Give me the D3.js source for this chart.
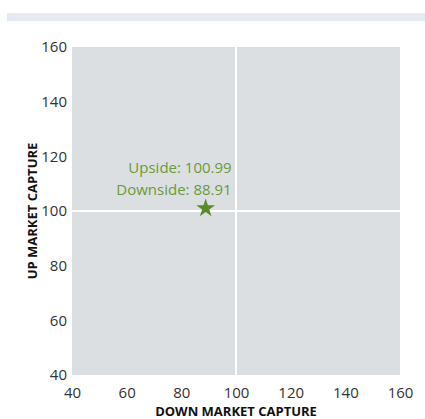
<!DOCTYPE html>
<html>
<head>
<meta charset="utf-8">
<script src="https://cdn.jsdelivr.net/npm/d3@7"></script>
<style>
  body { margin: 0; background: #fff; }
  text { font-family: "Open Sans", "Noto Sans", sans-serif; }
</style>
</head>
<body>
<script>
// chart values
var xTicks = [40, 60, 80, 100, 120, 140, 160];
var yTicks = [40, 60, 80, 100, 120, 140, 160];
var points = [{ down: 88.91, up: 100.99 }];
var labels = ["Upside: 100.99", "Downside: 88.91"];

var w = 425, h = 419;
var margin = { top: 47, right: 25, bottom: 44, left: 72 };

var svg = d3.select("body").append("svg")
  .attr("width", w).attr("height", h);

// band at the top
svg.append("rect")
  .attr("x", 7).attr("y", 13).attr("width", w - 7).attr("height", 8)
  .attr("fill", "#e5e9f0");

var x = d3.scaleLinear().domain([40, 160]).range([margin.left, w - margin.right]);
var y = d3.scaleLinear().domain([40, 160]).range([h - margin.bottom, margin.top]);

// plot background
svg.append("rect")
  .attr("x", x(40)).attr("y", y(160))
  .attr("width", x(160) - x(40)).attr("height", y(40) - y(160))
  .attr("fill", "#dcdfe2");

// white cross lines at 100
svg.append("line")
  .attr("x1", x(100)).attr("x2", x(100))
  .attr("y1", y(160)).attr("y2", y(40))
  .attr("stroke", "#fff").attr("stroke-width", 2);
svg.append("line")
  .attr("x1", x(40)).attr("x2", x(160))
  .attr("y1", y(100)).attr("y2", y(100))
  .attr("stroke", "#fff").attr("stroke-width", 2);

// axes
var xAxis = svg.append("g")
  .attr("transform", `translate(0,${y(40)})`)
  .call(d3.axisBottom(x).tickValues(xTicks).tickSize(0).tickPadding(12));
var yAxis = svg.append("g")
  .attr("transform", `translate(${x(40)},0)`)
  .call(d3.axisLeft(y).tickValues(yTicks).tickSize(0).tickPadding(5));
[xAxis, yAxis].forEach(function (g) {
  g.select(".domain").remove();
  g.selectAll("text")
    .attr("fill", "#333")
    .style("font-size", "15px")
    .style("font-family", "'Open Sans', sans-serif");
});

// axis titles
svg.append("text")
  .attr("x", x(100)).attr("y", 416)
  .attr("text-anchor", "middle")
  .attr("font-weight", "bold").attr("font-size", 13).attr("fill", "#111")
  .text("DOWN MARKET CAPTURE");
svg.append("text")
  .attr("transform", `translate(37,${y(100)}) rotate(-90)`)
  .attr("text-anchor", "middle")
  .attr("font-weight", "bold").attr("font-size", 13).attr("fill", "#111")
  .text("UP MARKET CAPTURE");

// star marker
svg.selectAll(".pt")
  .data(points)
  .enter().append("path")
  .attr("class", "pt")
  .attr("d", d3.symbol().type(d3.symbolStar).size(110))
  .attr("transform", function (d) { return `translate(${x(d.down)},${y(d.up)})`; })
  .attr("fill", "#5b8a2b");

// value labels
svg.selectAll(".lbl")
  .data(labels)
  .enter().append("text")
  .attr("class", "lbl")
  .attr("x", x(points[0].down) + 26)
  .attr("y", function (d, i) { return y(points[0].up) - 35 + i * 22; })
  .attr("text-anchor", "end")
  .attr("font-size", 15).attr("fill", "#6b9a37")
  .text(function (d) { return d; });
</script>
</body>
</html>
